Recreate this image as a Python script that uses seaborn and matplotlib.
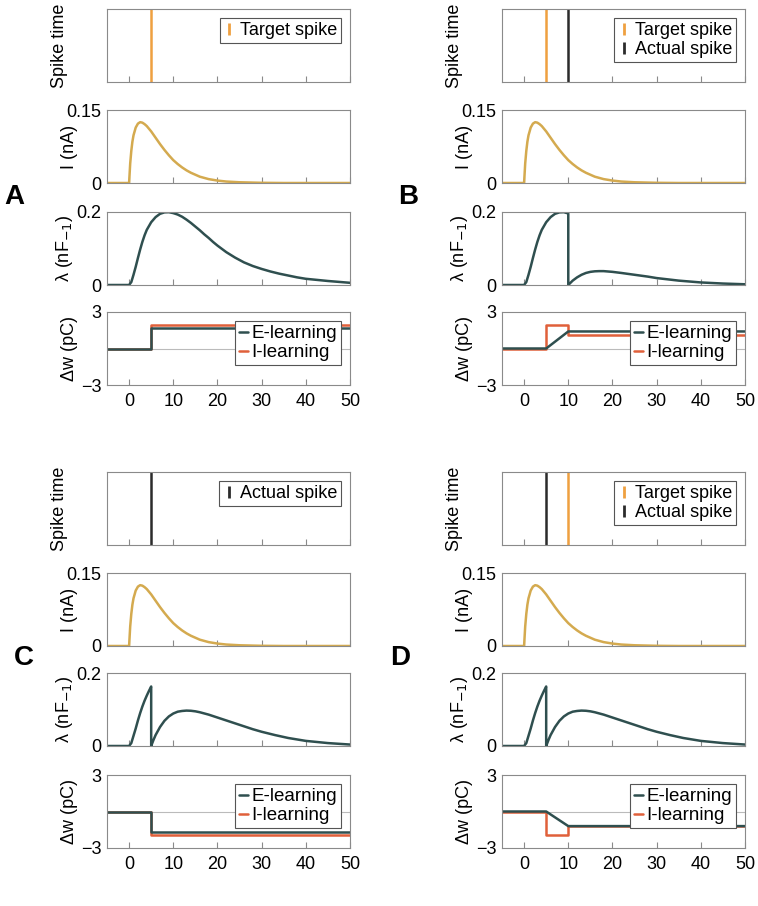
import matplotlib
matplotlib.use("Agg")
import matplotlib.pyplot as plt
from matplotlib.lines import Line2D
from matplotlib.ticker import FixedLocator, FixedFormatter
import seaborn as sns

# ---- data ----
t_I = [-5, 0, 0.25, 0.5, 0.75, 1, 1.5, 2, 2.5, 3, 3.5, 4, 5, 6, 7, 8, 9, 10, 11, 12,
       13, 14, 15, 16, 18, 20, 22, 25, 30, 35, 50]
I_vals = [0, 0, 0.040, 0.066, 0.085, 0.098, 0.114, 0.122, 0.125, 0.124, 0.121, 0.117,
          0.106, 0.093, 0.080, 0.068, 0.057, 0.047, 0.039, 0.032, 0.026, 0.021, 0.017,
          0.013, 0.008, 0.005, 0.003, 0.0015, 0.0004, 0, 0]

t_lam_A = [-5, 0, 0.5, 1, 1.5, 2, 2.5, 3, 3.5, 4, 5, 6, 7, 8, 9, 10, 11, 12, 13, 14,
           15, 16, 17, 18, 19, 20, 22, 24, 26, 28, 30, 32, 34, 36, 38, 40, 45, 50]
lam_A = [0, 0, 0.008, 0.028, 0.050, 0.074, 0.097, 0.118, 0.136, 0.151, 0.172, 0.186,
         0.195, 0.199, 0.1995, 0.197, 0.193, 0.187, 0.179, 0.170, 0.160, 0.150, 0.139,
         0.129, 0.118, 0.108, 0.090, 0.075, 0.062, 0.052, 0.044, 0.037, 0.031, 0.026,
         0.021, 0.017, 0.011, 0.006]

t_lam_B = [-5, 0, 0.5, 1, 1.5, 2, 2.5, 3, 3.5, 4, 5, 6, 7, 8, 9, 10, 10, 11, 12, 13,
           14, 15, 16, 17, 18, 20, 22, 25, 28, 30, 35, 40, 45, 50]
lam_B = [0, 0, 0.008, 0.028, 0.050, 0.074, 0.097, 0.118, 0.136, 0.151, 0.172, 0.186,
         0.195, 0.199, 0.1995, 0.196, 0, 0.012, 0.021, 0.028, 0.033, 0.036, 0.0375,
         0.038, 0.038, 0.036, 0.033, 0.028, 0.023, 0.019, 0.012, 0.007, 0.004, 0.002]

t_lam_CD = [-5, 0, 0.5, 1, 1.5, 2, 2.5, 3, 3.5, 4, 4.5, 5, 5, 5.5, 6, 7, 8, 9, 10, 11,
            12, 13, 14, 15, 16, 18, 20, 22, 25, 28, 30, 33, 36, 40, 45, 50]
lam_CD = [0, 0, 0.008, 0.028, 0.048, 0.070, 0.090, 0.108, 0.124, 0.138, 0.151, 0.163,
          0, 0.016, 0.030, 0.052, 0.069, 0.081, 0.089, 0.094, 0.096, 0.097, 0.0965,
          0.095, 0.0925, 0.086, 0.078, 0.070, 0.058, 0.046, 0.039, 0.030, 0.022, 0.014,
          0.008, 0.004]

# weight change, E-learning and I-learning
tE_A, wE_A = [-5, 5, 5, 50], [0, 0, 1.65, 1.65]
tI_A, wI_A = [-5, 5, 5, 50], [0, 0, 1.9, 1.9]
tE_B, wE_B = [-5, 5, 10, 50], [0, 0, 1.4, 1.4]
tI_B, wI_B = [-5, 5, 5, 10, 10, 50], [0, 0, 1.9, 1.9, 1.1, 1.1]
tE_C, wE_C = [-5, 5, 5, 50], [0, 0, -1.7, -1.7]
tI_C, wI_C = [-5, 5, 5, 50], [0, 0, -1.9, -1.9]
tE_D, wE_D = [-5, 5, 10, 50], [0, 0, -1.2, -1.2]
tI_D, wI_D = [-5, 5, 5, 10, 10, 50], [0, 0, -1.9, -1.9, -1.2, -1.2]

# spike times (None = no spike)
target_spike = {"A": 5, "B": 5, "C": None, "D": 10}
actual_spike = {"A": None, "B": 10, "C": 5, "D": 5}

panels = {
    "A": (t_lam_A, lam_A, tE_A, wE_A, tI_A, wI_A),
    "B": (t_lam_B, lam_B, tE_B, wE_B, tI_B, wI_B),
    "C": (t_lam_CD, lam_CD, tE_C, wE_C, tI_C, wI_C),
    "D": (t_lam_CD, lam_CD, tE_D, wE_D, tI_D, wI_D),
}

# colours
c_target = "#EFA040"
c_actual = "#2B2B2B"
c_current = "#D4AA4F"
c_teal = "#2F4F4F"
c_ilearn = "#E0603A"
c_spine = "#8A8A8A"

sns.set_theme(style="white")
plt.rcParams["font.family"] = ["Liberation Sans", "DejaVu Sans"]
plt.rcParams["text.color"] = "black"
plt.rcParams["axes.labelcolor"] = "black"
plt.rcParams["xtick.labelcolor"] = "black"
plt.rcParams["ytick.labelcolor"] = "black"
FS = 13

W, H = 758, 906
fig = plt.figure(figsize=(W / 100, H / 100), dpi=100)

col_left = {"A": 107, "B": 502, "C": 107, "D": 502}
row_tops = {"A": [9, 110, 212, 312], "B": [9, 110, 212, 312],
            "C": [472, 573, 673, 775], "D": [472, 573, 673, 775]}
letter_pos = {"A": (14, 197), "B": (408, 197), "C": (24, 658), "D": (400, 658)}
ax_w, ax_h = 243, 73


def make_ax(left, top):
    ax = fig.add_axes([left / W, 1 - (top + ax_h) / H, ax_w / W, ax_h / H])
    for s in ax.spines.values():
        s.set_color(c_spine)
        s.set_linewidth(0.8)
    ax.set_xlim(-5, 50)
    ax.xaxis.set_major_locator(FixedLocator([0, 10, 20, 30, 40, 50]))
    ax.tick_params(axis="x", direction="in", length=4, color=c_spine, width=0.8,
                   bottom=True, labelbottom=False, labelsize=FS, pad=6)
    ax.tick_params(axis="y", length=0, labelsize=FS, pad=4, left=True)
    ax.set_xlabel("")
    return ax


def set_y(ax, lo, hi, labels):
    ax.set_ylim(lo, hi)
    ax.yaxis.set_major_locator(FixedLocator([lo, hi]))
    ax.yaxis.set_major_formatter(FixedFormatter(labels))


for key, (tl, lv, tE, wE, tIl, wIl) in panels.items():
    left = col_left[key]
    tops = row_tops[key]

    # spike time
    ax0 = make_ax(left, tops[0])
    ax0.set_ylim(0, 1)
    ax0.set_yticks([])
    handles = []
    if target_spike[key] is not None:
        ax0.axvline(target_spike[key], color=c_target, lw=1.8)
        handles.append(Line2D([], [], color=c_target, marker="|", linestyle="None",
                              markersize=9, markeredgewidth=2, label="Target spike"))
    if actual_spike[key] is not None:
        ax0.axvline(actual_spike[key], color=c_actual, lw=1.8)
        handles.append(Line2D([], [], color=c_actual, marker="|", linestyle="None",
                              markersize=9, markeredgewidth=2, label="Actual spike"))
    leg = ax0.legend(handles=handles, loc="upper right", fontsize=FS, frameon=True,
                     fancybox=False, edgecolor="#555555", framealpha=1,
                     handlelength=0.6, handletextpad=0.3, labelspacing=0.12,
                     borderpad=0.22, borderaxespad=0.5)
    leg.get_frame().set_linewidth(0.8)
    ax0.set_ylabel("Spike time", fontsize=FS)
    ax0.yaxis.set_label_coords(-0.16, 0.5)

    # current
    ax1 = make_ax(left, tops[1])
    sns.lineplot(x=t_I, y=I_vals, ax=ax1, color=c_current, lw=1.8,
                 estimator=None, sort=False)
    set_y(ax1, 0, 0.15, ["0", "0.15"])
    ax1.set_ylabel("I (nA)", fontsize=FS)
    ax1.yaxis.set_label_coords(-0.12, 0.5)

    # lambda
    ax2 = make_ax(left, tops[2])
    sns.lineplot(x=tl, y=lv, ax=ax2, color=c_teal, lw=1.8, estimator=None, sort=False)
    set_y(ax2, 0, 0.2, ["0", "0.2"])
    ax2.set_ylabel("λ (nF$_{-1}$)", fontsize=FS)
    ax2.yaxis.set_label_coords(-0.13, 0.5)

    # weight change
    ax3 = make_ax(left, tops[3])
    ax3.axhline(0, color="#BBBBBB", lw=0.8, zorder=0)
    sns.lineplot(x=tIl, y=wIl, ax=ax3, color=c_ilearn, lw=1.8, estimator=None,
                 sort=False)
    sns.lineplot(x=tE, y=wE, ax=ax3, color=c_teal, lw=1.8, estimator=None, sort=False)
    set_y(ax3, -3, 3, ["\u22123", "3"])
    ax3.set_ylabel("Δw (pC)", fontsize=FS)
    ax3.yaxis.set_label_coords(-0.12, 0.5)
    ax3.tick_params(axis="x", labelbottom=True)
    ax3.set_xlabel("t (ms)", fontsize=FS, labelpad=10)
    hE = Line2D([], [], color=c_teal, lw=1.8, label="E-learning")
    hI = Line2D([], [], color=c_ilearn, lw=1.8, label="I-learning")
    leg = ax3.legend(handles=[hE, hI], loc="upper right", fontsize=FS + 0.5,
                     frameon=True, fancybox=False, edgecolor="#555555", framealpha=1,
                     handlelength=0.5, handletextpad=0.15, labelspacing=0.1,
                     borderpad=0.2, borderaxespad=0.5)
    leg.get_frame().set_linewidth(0.8)

    lx, ly = letter_pos[key]
    fig.text(lx / W, 1 - ly / H, key, fontsize=20, fontweight="bold",
             ha="center", va="center")

fig.savefig("out.png", dpi=100)
